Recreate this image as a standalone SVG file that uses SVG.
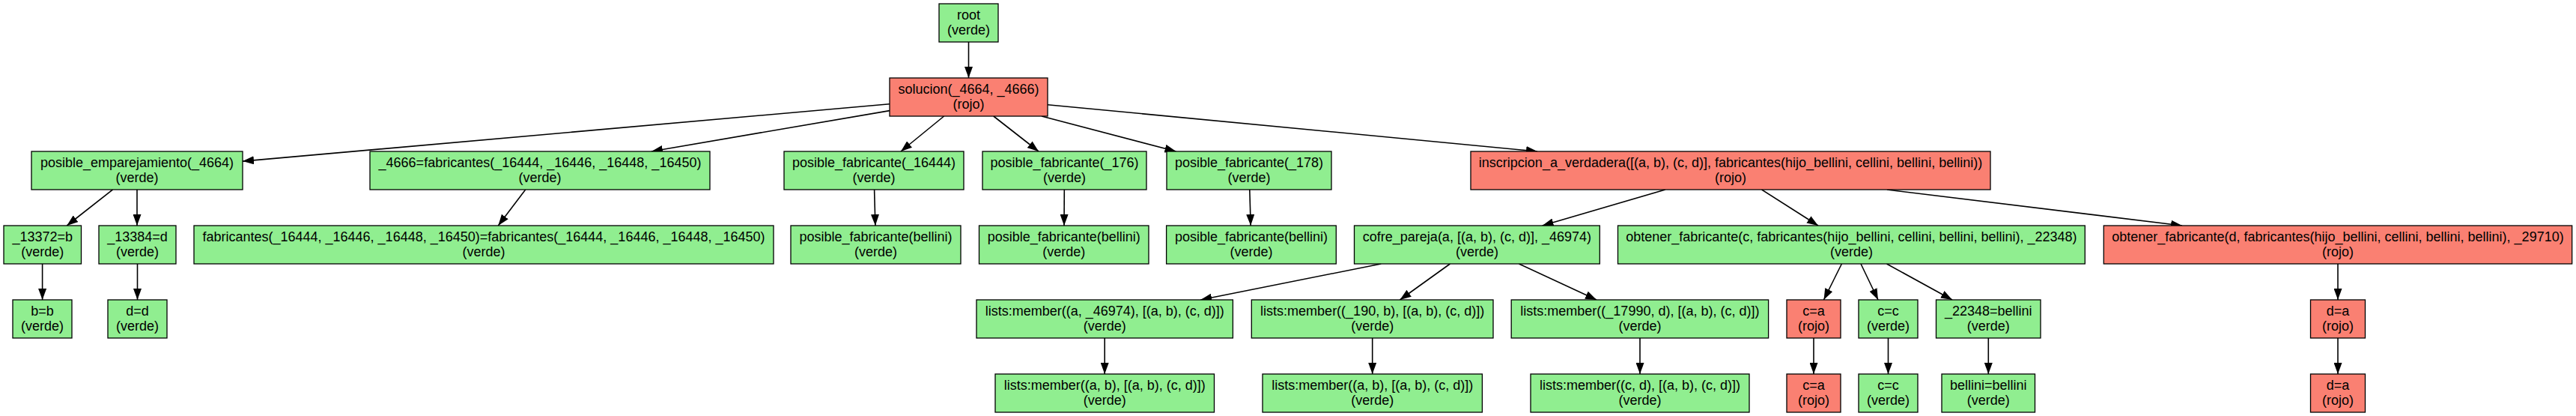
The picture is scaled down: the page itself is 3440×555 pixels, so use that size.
<svg xmlns="http://www.w3.org/2000/svg" width="3440" height="555" viewBox="0 0 3440 555">
<style>
rect{stroke:#000;stroke-width:1.3}
.g{fill:#90ee90}
.r{fill:#fa8072}
text{font-family:"Liberation Sans",Arial,sans-serif;font-size:18px;fill:#000;text-anchor:middle}
#edges line{stroke:#000;stroke-width:1.6;marker-end:url(#arr)}
</style>
<defs>
<marker id="arr" markerUnits="userSpaceOnUse" markerWidth="15" markerHeight="11" refX="15" refY="5.5" orient="auto">
<path d="M0,0 L15,5.5 L0,11 z" fill="#000"/>
</marker>
</defs>
<rect x="0" y="0" width="3440" height="555" fill="#fff" style="stroke:none"/>
<g id="edges">
<line x1="1293.5" y1="56" x2="1293.5" y2="104"/>
<line x1="1188" y1="138.8" x2="324" y2="215.1"/>
<line x1="1188" y1="147.6" x2="870" y2="202"/>
<line x1="1260.6" y1="155" x2="1203" y2="202"/>
<line x1="1326.8" y1="155" x2="1387" y2="202"/>
<line x1="1391" y1="155" x2="1570.5" y2="202"/>
<line x1="1399" y1="139.7" x2="2053" y2="202"/>
<line x1="150.5" y1="253" x2="89.3" y2="301"/>
<line x1="183" y1="253" x2="183" y2="301"/>
<line x1="701.7" y1="253" x2="665.3" y2="301"/>
<line x1="1167.6" y1="253" x2="1168.9" y2="301"/>
<line x1="1421.3" y1="253" x2="1421" y2="301"/>
<line x1="1668.8" y1="253" x2="1670.2" y2="301"/>
<line x1="2223.8" y1="253" x2="2059.6" y2="301"/>
<line x1="2352.6" y1="253" x2="2428" y2="301"/>
<line x1="2519.9" y1="253" x2="2914" y2="301"/>
<line x1="56.6" y1="352" x2="56.6" y2="400"/>
<line x1="183.5" y1="352" x2="183.5" y2="400"/>
<line x1="1844.3" y1="352" x2="1603.3" y2="400"/>
<line x1="1936.4" y1="352" x2="1869.5" y2="400"/>
<line x1="2028.4" y1="352" x2="2132" y2="400"/>
<line x1="2459.4" y1="352" x2="2435.5" y2="400"/>
<line x1="2485" y1="352" x2="2508" y2="400"/>
<line x1="2519.5" y1="352" x2="2607" y2="400"/>
<line x1="3122" y1="352" x2="3122" y2="400"/>
<line x1="1475.2" y1="451" x2="1475.2" y2="499"/>
<line x1="1832.7" y1="451" x2="1832.7" y2="499"/>
<line x1="2190" y1="451" x2="2190" y2="499"/>
<line x1="2422" y1="451" x2="2422" y2="499"/>
<line x1="2521.5" y1="451" x2="2521.5" y2="499"/>
<line x1="2655.3" y1="451" x2="2655.3" y2="499"/>
<line x1="3122" y1="451" x2="3122" y2="499"/>
</g>
<g id="n0"><rect class="g" x="1254" y="5" width="79" height="51"/><text><tspan x="1293.5" y="26.3">root</tspan><tspan x="1293.5" y="45.5">(verde)</tspan></text></g>
<g id="n1"><rect class="r" x="1188" y="104" width="211" height="51"/><text><tspan x="1293.5" y="125.3">solucion(_4664, _4666)</tspan><tspan x="1293.5" y="144.5">(rojo)</tspan></text></g>
<g id="n2"><rect class="g" x="42" y="202" width="282" height="51"/><text><tspan x="183" y="223.3">posible_emparejamiento(_4664)</tspan><tspan x="183" y="242.5">(verde)</tspan></text></g>
<g id="n3"><rect class="g" x="494" y="202" width="454" height="51"/><text><tspan x="721" y="223.3">_4666=fabricantes(_16444, _16446, _16448, _16450)</tspan><tspan x="721" y="242.5">(verde)</tspan></text></g>
<g id="n4"><rect class="g" x="1047" y="202" width="240" height="51"/><text><tspan x="1167" y="223.3">posible_fabricante(_16444)</tspan><tspan x="1167" y="242.5">(verde)</tspan></text></g>
<g id="n5"><rect class="g" x="1312" y="202" width="219" height="51"/><text><tspan x="1421.5" y="223.3">posible_fabricante(_176)</tspan><tspan x="1421.5" y="242.5">(verde)</tspan></text></g>
<g id="n6"><rect class="g" x="1558" y="202" width="220" height="51"/><text><tspan x="1668" y="223.3">posible_fabricante(_178)</tspan><tspan x="1668" y="242.5">(verde)</tspan></text></g>
<g id="n7"><rect class="r" x="1964" y="202" width="694" height="51"/><text><tspan x="2311" y="223.3">inscripcion_a_verdadera([(a, b), (c, d)], fabricantes(hijo_bellini, cellini, bellini, bellini))</tspan><tspan x="2311" y="242.5">(rojo)</tspan></text></g>
<g id="n8"><rect class="g" x="5" y="301" width="103.5" height="51"/><text><tspan x="56.75" y="322.3">_13372=b</tspan><tspan x="56.75" y="341.5">(verde)</tspan></text></g>
<g id="n9"><rect class="g" x="132" y="301" width="103" height="51"/><text><tspan x="183.5" y="322.3">_13384=d</tspan><tspan x="183.5" y="341.5">(verde)</tspan></text></g>
<g id="n10"><rect class="g" x="259" y="301" width="774" height="51"/><text><tspan x="646" y="322.3">fabricantes(_16444, _16446, _16448, _16450)=fabricantes(_16444, _16446, _16448, _16450)</tspan><tspan x="646" y="341.5">(verde)</tspan></text></g>
<g id="n11"><rect class="g" x="1056" y="301" width="227" height="51"/><text><tspan x="1169.5" y="322.3">posible_fabricante(bellini)</tspan><tspan x="1169.5" y="341.5">(verde)</tspan></text></g>
<g id="n12"><rect class="g" x="1307.5" y="301" width="226.5" height="51"/><text><tspan x="1420.75" y="322.3">posible_fabricante(bellini)</tspan><tspan x="1420.75" y="341.5">(verde)</tspan></text></g>
<g id="n13"><rect class="g" x="1557.6" y="301" width="226.7" height="51"/><text><tspan x="1671" y="322.3">posible_fabricante(bellini)</tspan><tspan x="1671" y="341.5">(verde)</tspan></text></g>
<g id="n14"><rect class="g" x="1808.5" y="301" width="327.8" height="51"/><text><tspan x="1972.4" y="322.3">cofre_pareja(a, [(a, b), (c, d)], _46974)</tspan><tspan x="1972.4" y="341.5">(verde)</tspan></text></g>
<g id="n15"><rect class="g" x="2160.5" y="301" width="623.8" height="51"/><text><tspan x="2472.4" y="322.3">obtener_fabricante(c, fabricantes(hijo_bellini, cellini, bellini, bellini), _22348)</tspan><tspan x="2472.4" y="341.5">(verde)</tspan></text></g>
<g id="n16"><rect class="r" x="2809.3" y="301" width="625.4" height="51"/><text><tspan x="3122" y="322.3">obtener_fabricante(d, fabricantes(hijo_bellini, cellini, bellini, bellini), _29710)</tspan><tspan x="3122" y="341.5">(rojo)</tspan></text></g>
<g id="n17"><rect class="g" x="17" y="400" width="79" height="51"/><text><tspan x="56.5" y="421.3">b=b</tspan><tspan x="56.5" y="440.5">(verde)</tspan></text></g>
<g id="n18"><rect class="g" x="144" y="400" width="79" height="51"/><text><tspan x="183.5" y="421.3">d=d</tspan><tspan x="183.5" y="440.5">(verde)</tspan></text></g>
<g id="n19"><rect class="g" x="1304" y="400" width="342.4" height="51"/><text><tspan x="1475.2" y="421.3">lists:member((a, _46974), [(a, b), (c, d)])</tspan><tspan x="1475.2" y="440.5">(verde)</tspan></text></g>
<g id="n20"><rect class="g" x="1671.3" y="400" width="322.7" height="51"/><text><tspan x="1832.65" y="421.3">lists:member((_190, b), [(a, b), (c, d)])</tspan><tspan x="1832.65" y="440.5">(verde)</tspan></text></g>
<g id="n21"><rect class="g" x="2018.2" y="400" width="343.4" height="51"/><text><tspan x="2189.9" y="421.3">lists:member((_17990, d), [(a, b), (c, d)])</tspan><tspan x="2189.9" y="440.5">(verde)</tspan></text></g>
<g id="n22"><rect class="r" x="2386" y="400" width="72" height="51"/><text><tspan x="2422" y="421.3">c=a</tspan><tspan x="2422" y="440.5">(rojo)</tspan></text></g>
<g id="n23"><rect class="g" x="2482" y="400" width="79" height="51"/><text><tspan x="2521.5" y="421.3">c=c</tspan><tspan x="2521.5" y="440.5">(verde)</tspan></text></g>
<g id="n24"><rect class="g" x="2585.5" y="400" width="139.5" height="51"/><text><tspan x="2655.25" y="421.3">_22348=bellini</tspan><tspan x="2655.25" y="440.5">(verde)</tspan></text></g>
<g id="n25"><rect class="r" x="3085.5" y="400" width="73" height="51"/><text><tspan x="3122" y="421.3">d=a</tspan><tspan x="3122" y="440.5">(rojo)</tspan></text></g>
<g id="n26"><rect class="g" x="1329" y="499" width="292.5" height="51"/><text><tspan x="1475.25" y="520.3">lists:member((a, b), [(a, b), (c, d)])</tspan><tspan x="1475.25" y="539.5">(verde)</tspan></text></g>
<g id="n27"><rect class="g" x="1686" y="499" width="293.4" height="51"/><text><tspan x="1832.7" y="520.3">lists:member((a, b), [(a, b), (c, d)])</tspan><tspan x="1832.7" y="539.5">(verde)</tspan></text></g>
<g id="n28"><rect class="g" x="2044" y="499" width="292" height="51"/><text><tspan x="2190" y="520.3">lists:member((c, d), [(a, b), (c, d)])</tspan><tspan x="2190" y="539.5">(verde)</tspan></text></g>
<g id="n29"><rect class="r" x="2386" y="499" width="72" height="51"/><text><tspan x="2422" y="520.3">c=a</tspan><tspan x="2422" y="539.5">(rojo)</tspan></text></g>
<g id="n30"><rect class="g" x="2482" y="499" width="79" height="51"/><text><tspan x="2521.5" y="520.3">c=c</tspan><tspan x="2521.5" y="539.5">(verde)</tspan></text></g>
<g id="n31"><rect class="g" x="2593" y="499" width="124.5" height="51"/><text><tspan x="2655.25" y="520.3">bellini=bellini</tspan><tspan x="2655.25" y="539.5">(verde)</tspan></text></g>
<g id="n32"><rect class="r" x="3085.5" y="499" width="73" height="51"/><text><tspan x="3122" y="520.3">d=a</tspan><tspan x="3122" y="539.5">(rojo)</tspan></text></g>
</svg>
